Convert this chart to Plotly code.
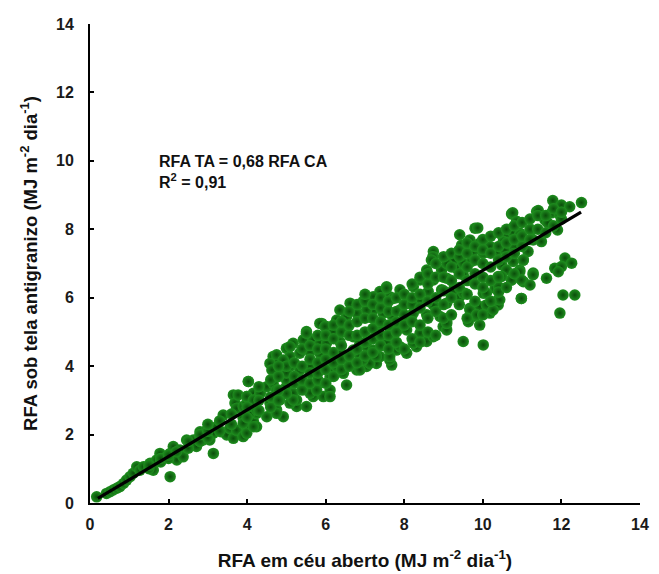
import plotly.graph_objects as go

# Points (RFA em céu aberto, RFA sob tela antigranizo)
rfa_ca = [
    0.17, 0.42, 0.51, 0.59, 0.68, 0.76, 0.85, 0.93, 1.02, 1.10, 1.19, 1.27, 1.36, 1.53, 1.61, 1.61, 1.70,
    1.78, 1.95, 2.04, 2.04, 2.12, 2.21, 2.29, 2.37, 2.46, 2.54, 2.63, 2.71, 2.80, 2.80, 2.88, 2.97, 3.05,
    3.14, 3.14, 3.22, 3.35, 3.39, 3.48, 3.56, 3.65, 3.65, 3.69, 3.73, 3.73, 3.77, 3.90, 3.90, 3.90, 3.99,
    3.99, 3.99, 4.03, 4.07, 4.16, 4.16, 4.24, 4.24, 4.33, 4.33, 3.90, 3.99, 4.07, 4.16, 4.24, 4.50, 4.75,
    4.92, 5.26, 4.58, 4.83, 5.09, 5.26, 5.51, 5.68, 3.99, 4.16, 4.33, 4.50, 4.66, 4.75, 5.00, 5.17, 5.43,
    5.60, 5.77, 5.94, 6.11, 4.03, 4.66, 4.75, 4.58, 4.83, 5.09, 5.34, 5.60, 5.85, 6.11, 6.28, 6.53, 5.00,
    5.17, 5.09, 5.34, 5.60, 5.85, 6.11, 6.36, 6.53, 6.79, 7.04, 7.29, 7.68, 6.70, 6.87, 7.04, 7.21, 7.46,
    7.72, 7.80, 7.63, 7.38, 7.12, 6.87, 6.70, 5.51, 5.43, 5.68, 5.85, 6.02, 6.36, 7.21, 7.46, 7.68, 7.80,
    7.38, 7.63, 5.90, 6.02, 6.28, 6.19, 6.45, 6.62, 6.95, 7.04, 6.79, 6.53, 6.36, 7.55, 7.38, 7.63, 7.21,
    4.75, 4.92, 5.09, 5.51, 5.85, 5.98, 4.88, 4.63, 4.75, 5.17, 5.77, 6.11, 6.28, 6.45, 6.11, 6.87, 7.12,
    6.95, 7.29, 8.06, 8.31, 8.65, 8.99, 9.08, 9.50, 10.01, 7.55, 7.89, 8.23, 8.57, 7.63, 7.38, 7.72, 8.06,
    8.40, 8.74, 9.08, 7.55, 7.89, 8.23, 8.57, 8.91, 9.08, 9.67, 9.92, 9.75, 9.63, 9.92, 10.18, 10.39,
    10.09, 9.41, 9.08, 8.74, 8.40, 8.06, 7.72, 7.38, 9.54, 9.25, 8.95, 8.61, 8.23, 7.89, 7.55, 10.01,
    10.31, 10.39, 10.98, 8.40, 8.74, 9.08, 9.50, 10.39, 10.73, 11.03, 11.28, 8.57, 8.95, 9.33, 10.94,
    9.08, 9.25, 9.50, 9.71, 11.03, 9.92, 10.18, 10.35, 10.01, 9.75, 8.74, 8.73, 9.41, 9.67, 9.46, 9.80,
    9.87, 10.48, 10.69, 10.94, 11.24, 10.73, 11.37, 10.86, 8.69, 9.08, 9.67, 9.84, 10.26, 10.43, 10.09,
    9.50, 12.04, 12.34, 11.96, 12.51, 11.78, 12.00, 12.21, 11.40, 10.76, 11.75, 11.96, 11.58, 11.65,
    10.86, 11.24, 11.90, 10.60, 10.76, 10.94, 10.52, 10.69, 11.03, 11.28, 11.49, 10.56, 10.81, 11.15,
    12.09, 11.03, 10.77, 11.83, 12.00, 12.26, 11.92, 10.48, 10.60, 10.94, 11.28, 11.62, 10.73, 10.98,
    11.20, 10.48, 10.40, 10.40, 10.98, 11.41,
    5.0, 5.0, 5.0, 5.0, 5.2, 5.2, 5.2, 5.4, 5.4, 5.4, 5.4, 5.6, 5.6, 5.6, 5.6, 5.8, 5.8, 5.8, 5.8, 5.8,
    6.0, 6.0, 6.0, 6.0, 6.0, 6.2, 6.2, 6.2, 6.2, 6.2, 6.4, 6.4, 6.4, 6.4, 6.4, 6.6, 6.6, 6.6, 6.6, 6.6,
    6.8, 6.8, 6.8, 6.8, 6.8, 7.0, 7.0, 7.0, 7.0, 7.0, 7.0, 7.2, 7.2, 7.2, 7.2, 7.2, 7.4, 7.4, 7.4, 7.4,
    7.4, 7.6, 7.6, 7.6, 7.6, 7.6, 7.8, 7.8, 7.8, 7.8, 7.8, 8.0, 8.0, 8.0, 8.0, 8.0, 8.2, 8.2, 8.2, 8.2,
    8.2, 8.4, 8.4, 8.4, 8.4, 8.4, 8.6, 8.6, 8.6, 8.6, 8.6, 8.8, 8.8, 8.8, 8.8, 8.8, 9.0, 9.0, 9.0, 9.0,
    9.0, 9.2, 9.2, 9.2, 9.2, 9.2, 9.4, 9.4, 9.4, 9.4, 9.4, 9.6, 9.6, 9.6, 9.6, 9.6, 9.6, 9.8, 9.8, 9.8,
    9.8, 9.8, 10.0, 10.0, 10.0, 10.0, 10.0, 10.0, 10.2, 10.2, 10.2, 10.2, 10.2, 10.4, 10.4, 10.4, 10.4,
    10.6, 10.6, 10.6, 10.6, 10.8, 10.8, 10.8, 10.8, 11.0, 11.0, 11.0, 11.2, 11.2, 11.2, 11.4, 11.4,
    11.6, 11.6, 11.8, 11.8, 12.0, 12.0,
    2.5, 2.5, 2.8, 2.8, 3.0, 3.0, 3.0, 3.3, 3.3, 3.6, 3.6, 4.0, 4.0, 4.3, 4.3, 4.3, 4.6, 4.6, 4.6, 4.8,
    4.8, 4.8, 4.8, 1.5, 1.5, 1.8, 1.8, 2.0, 2.0, 2.2,
]
rfa_ta = [
    0.18, 0.28, 0.33, 0.38, 0.43, 0.48, 0.57, 0.67, 0.77, 0.87, 1.06, 0.96, 1.06, 1.16, 1.16, 0.96, 1.26,
    1.45, 1.35, 1.45, 0.77, 1.65, 1.26, 1.55, 1.35, 1.84, 1.65, 1.84, 1.65, 2.08, 1.94, 1.84, 2.13, 1.84,
    2.04, 1.45, 2.23, 2.08, 2.57, 1.99, 2.18, 1.89, 3.16, 2.92, 2.77, 2.13, 3.16, 2.48, 1.94, 2.82, 2.92,
    2.23, 3.11, 3.55, 2.72, 2.38, 3.21, 2.62, 2.23, 3.30, 3.21, 2.33, 2.04, 2.62, 2.23, 2.72, 2.52, 2.72,
    2.52, 2.82, 2.92, 3.01, 2.92, 3.01, 2.82, 3.11, 3.11, 3.01, 3.21, 3.40, 3.50, 3.30, 3.40, 3.21, 3.40,
    3.21, 3.40, 3.11, 3.30, 3.55, 4.28, 4.18, 4.08, 3.99, 3.99, 3.89, 3.99, 3.99, 3.89, 3.99, 3.45, 4.52,
    4.67, 4.28, 4.38, 4.42, 4.38, 4.38, 4.38, 4.18, 3.89, 3.99, 4.08, 4.03, 4.86, 4.67, 4.57, 4.47, 4.67,
    4.77, 4.47, 4.18, 4.28, 4.18, 4.28, 4.47, 5.01, 4.77, 4.77, 4.67, 4.67, 4.72, 5.64, 5.55, 5.50, 5.25,
    5.16, 4.96, 5.25, 5.16, 5.35, 5.01, 5.06, 5.84, 5.89, 5.64, 5.55, 5.45, 5.64, 6.32, 6.18, 6.03, 6.03,
    4.33, 4.18, 4.57, 4.96, 5.25, 5.16, 3.79, 3.89, 2.62, 3.01, 3.30, 3.69, 3.99, 3.79, 3.11, 3.89, 4.08,
    4.18, 4.28, 4.38, 4.57, 4.86, 5.16, 5.30, 4.72, 4.62, 4.67, 4.57, 4.67, 4.72, 4.28, 5.25, 5.16, 5.06,
    4.96, 4.86, 5.06, 5.69, 5.64, 5.55, 5.50, 5.45, 5.25, 5.69, 5.74, 5.45, 5.30, 5.20, 5.55, 5.79,
    5.79, 6.03, 5.84, 5.79, 5.94, 5.84, 5.98, 5.94, 6.13, 6.23, 6.23, 6.18, 6.32, 6.23, 6.28, 6.13,
    6.28, 5.94, 5.98, 6.52, 6.52, 6.57, 6.67, 6.62, 6.52, 6.47, 6.72, 6.81, 6.81, 6.86, 6.81,
    7.10, 7.10, 7.01, 7.06, 7.10, 7.59, 7.50, 7.35, 7.30, 7.35, 7.35, 7.20, 7.84, 7.69, 7.54, 8.03,
    8.04, 7.84, 7.89, 7.89, 7.98, 8.45, 8.52, 8.23, 7.10, 7.00, 5.64, 5.50, 5.64, 5.94, 6.13,
    6.13, 6.08, 6.08, 5.55, 8.78, 8.84, 8.71, 8.66, 8.52, 8.48, 8.48, 8.42, 8.27, 8.19,
    8.23, 7.98, 7.98, 7.88, 7.93, 7.84, 7.64, 7.59, 7.64, 7.69, 7.64, 7.40, 7.45, 7.35,
    7.16, 7.10, 7.06, 6.86, 6.91, 7.01, 6.76, 6.96, 6.81, 6.76, 6.67, 6.57, 6.52, 6.52,
    6.37, 6.62, 6.32, 6.17, 5.98, 8.55,
    3.2, 3.6, 3.8, 4.0, 3.5, 3.7, 4.1, 3.3, 3.6, 4.0, 4.5, 3.5, 3.8, 4.2, 4.6, 3.6, 3.8, 4.1, 4.5, 4.9,
    3.5, 3.9, 4.2, 4.5, 4.9, 3.7, 4.1, 4.4, 4.8, 5.2, 3.9, 4.2, 4.6, 5.0, 5.3, 4.0, 4.3, 4.9, 5.2, 5.6,
    4.1, 4.5, 4.9, 5.3, 5.8, 4.3, 4.7, 5.0, 5.4, 5.9, 6.1, 4.4, 4.8, 5.1, 5.4, 5.8, 4.6, 4.9, 5.3, 5.7,
    6.0, 4.5, 4.9, 5.2, 5.6, 5.9, 4.7, 5.0, 5.3, 5.6, 6.0, 4.5, 5.2, 5.5, 5.8, 6.1, 4.8, 5.3, 5.8, 6.0,
    6.4, 4.7, 5.2, 5.7, 6.1, 6.6, 5.0, 5.4, 5.9, 6.4, 6.7, 4.9, 5.6, 6.0, 6.6, 7.0, 5.4, 5.8, 6.2, 6.6,
    7.2, 5.5, 6.0, 6.5, 6.9, 7.3, 5.8, 6.3, 6.7, 7.2, 7.4, 5.4, 6.1, 6.5, 6.9, 7.3, 7.6, 5.9, 6.4, 6.7,
    7.1, 7.5, 5.5, 6.3, 6.6, 7.0, 7.4, 7.7, 5.9, 6.5, 6.9, 7.3, 7.8, 6.6, 7.1, 7.5, 7.9,
    6.3, 7.2, 7.6, 8.0, 6.7, 7.3, 7.7, 8.1, 7.5, 7.8, 8.2, 7.7, 8.0, 8.3, 8.0, 8.4,
    7.9, 8.4, 8.1, 8.6, 8.3, 8.5,
    1.6, 1.8, 1.8, 2.0, 1.9, 2.1, 2.3, 2.1, 2.4, 2.3, 2.6, 2.5, 2.8, 2.7, 3.0, 3.4, 2.8, 3.1, 3.6, 3.0,
    3.3, 3.7, 4.0, 1.0, 1.1, 1.2, 1.3, 1.3, 1.4, 1.5,
]

# Regression line RFA TA = 0,68 RFA CA
slope = 0.68
line_x = [0.2, 12.5]
line_y = [slope * v for v in line_x]

n = min(len(rfa_ca), len(rfa_ta))
rfa_ca = rfa_ca[:n]
rfa_ta = rfa_ta[:n]

axis_ticks = [0, 2, 4, 6, 8, 10, 12, 14]
FONT = "Liberation Sans, Arial, sans-serif"
tick_font = dict(family=FONT, size=16, color="#1a1a1a")

fig = go.Figure()
fig.add_trace(go.Scatter(
    x=rfa_ca, y=rfa_ta, mode="markers",
    marker=dict(size=11.5, color="#1f8f1f",
                gradient=dict(type="radial", color="#0a4c0a"),
                line=dict(width=0)),
    showlegend=False, hoverinfo="x+y",
))
fig.add_trace(go.Scatter(
    x=line_x, y=line_y, mode="lines",
    line=dict(color="#000000", width=3.2),
    showlegend=False, hoverinfo="skip",
))

fig.add_annotation(x=1.70, y=9.97, xref="x", yref="y", xanchor="left", yanchor="middle",
                   text="<b>RFA TA = 0,68 RFA CA</b>", showarrow=False,
                   font=dict(family=FONT, size=16, color="#111111"))
fig.add_annotation(x=1.70, y=9.42, xref="x", yref="y", xanchor="left", yanchor="middle",
                   text="<b>R<sup>2</sup> = 0,91</b>", showarrow=False,
                   font=dict(family=FONT, size=16, color="#111111"))

# the page body has an 8px margin, so the figure is sized to fit inside it
fig.update_layout(
    width=651, height=566,
    margin=dict(l=82, r=19, t=16, b=71),
    paper_bgcolor="white", plot_bgcolor="white",
    xaxis=dict(
        range=[0, 14], tickvals=axis_ticks, ticktext=[f"<b>{t}</b>" for t in axis_ticks],
        showgrid=False, zeroline=False, showline=True, linecolor="black", linewidth=2,
        ticks="inside", ticklen=4, tickwidth=2, tickcolor="black", tickfont=tick_font,
        ticklabelstandoff=6, automargin=False,
        title=dict(text="<b>RFA em céu aberto (MJ m<sup>-2</sup> dia<sup>-1</sup>)</b>",
                   font=dict(family=FONT, size=19, color="#111111"),
                   standoff=21),
    ),
    yaxis=dict(
        range=[0, 14], tickvals=axis_ticks, ticktext=[f"<b>{t}</b>" for t in axis_ticks],
        showgrid=False, zeroline=False, showline=True, linecolor="black", linewidth=2,
        ticks="inside", ticklen=4, tickwidth=2, tickcolor="black", tickfont=tick_font,
        ticklabelstandoff=11, automargin=False,
        title=dict(text="<b>RFA sob tela antigranizo (MJ m<sup>-2</sup> dia<sup>-1</sup>)</b>",
                   font=dict(family=FONT, size=18.5, color="#111111"),
                   standoff=14),
    ),
)

fig.write_html("out.html")
